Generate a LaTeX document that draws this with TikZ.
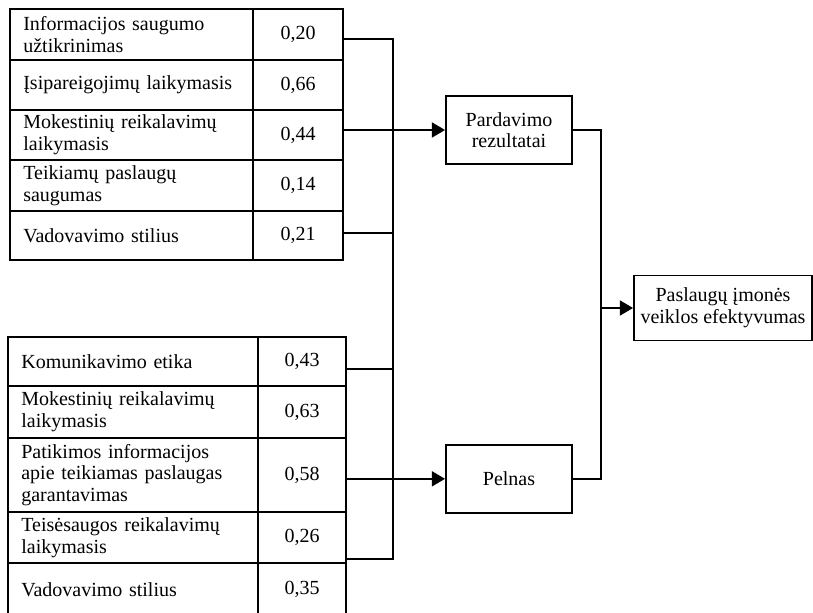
\documentclass[tikz,border=0pt]{standalone}
\usepackage{fontspec}
\setmainfont{Liberation Serif}
\usetikzlibrary{positioning,arrows.meta}

\begin{document}
\begin{tikzpicture}[x=0.6pt,y=-0.6pt,
            font=\fontsize{12pt}{13pt}\selectfont,
            factor node/.style={draw,line width=1.1pt,anchor=north west,align=left,outer sep=0pt,
                inner xsep=8pt,inner ysep=1pt,text width=#1},
            value node/.style={draw,line width=1.1pt,minimum width=#1,inner sep=1pt,outer sep=0pt},
            row height/.style={minimum height=#1*0.6pt},
            main node/.style={draw,line width=1.1pt,align=center,inner xsep=2pt,
                minimum width=75.6pt,minimum height=40.8pt},
            feed line/.style={line width=0.8pt},
            bus line/.style={line width=1.5pt},
            flow arrow/.style={line width=1.3pt,-{Triangle[length=8pt,width=9pt]}}]

        \useasboundingbox (0,0) rectangle (813,612);

        % Upper group of factors
        \node[factor node=129.8pt,row height=51] (f1) at (10,9) {Informacijos saugumo\\užtikrinimas};
        \node[factor node=129.8pt,row height=50,below=0pt of f1] (f2) {Įsipareigojimų laikymasis};
        \node[factor node=129.8pt,row height=50,below=0pt of f2] (f3) {Mokestinių reikalavimų\\laikymasis};
        \node[factor node=129.8pt,row height=51,below=0pt of f3] (f4) {Teikiamų paslaugų\\saugumas};
        \node[factor node=129.8pt,row height=49,below=0pt of f4] (f5) {Vadovavimo stilius};

        \node[value node=54pt,row height=51,right=0pt of f1] (v1) {0,20};
        \node[value node=54pt,row height=50,right=0pt of f2] (v2) {0,66};
        \node[value node=54pt,row height=50,right=0pt of f3] (v3) {0,44};
        \node[value node=54pt,row height=51,right=0pt of f4] (v4) {0,14};
        \node[value node=54pt,row height=49,right=0pt of f5] (v5) {0,21};

        % Lower group of factors
        \node[factor node=134pt,row height=49] (g1) at (8,337) {Komunikavimo etika};
        \node[factor node=134pt,row height=52,below=0pt of g1] (g2) {Mokestinių reikalavimų\\laikymasis};
        \node[factor node=134pt,row height=74,below=0pt of g2] (g3) {Patikimos informacijos\\apie teikiamas paslaugas\\garantavimas};
        \node[factor node=134pt,row height=51,below=0pt of g3] (g4) {Teisėsaugos reikalavimų\\laikymasis};
        \node[factor node=134pt,row height=53,below=0pt of g4] (g5) {Vadovavimo stilius};

        \node[value node=52.8pt,row height=49,right=0pt of g1] (w1) {0,43};
        \node[value node=52.8pt,row height=52,right=0pt of g2] (w2) {0,63};
        \node[value node=52.8pt,row height=74,right=0pt of g3] (w3) {0,58};
        \node[value node=52.8pt,row height=51,right=0pt of g4] (w4) {0,26};
        \node[value node=52.8pt,row height=53,right=0pt of g5] (w5) {0,35};

        % Results
        \node[main node] (sales) at (509,130) {Pardavimo\\rezultatai};
        \node[main node] (profit) [below=167.4pt of sales] {Pelnas};
        \node[main node,minimum width=106.8pt,minimum height=39pt] (result) at (723,308) {Paslaugų įmonės\\veiklos efektyvumas};

        \coordinate (top) at (393,38.5);
        \coordinate (bottom) at (393,559.5);
        \coordinate (join) at (601,308);
        \coordinate (c1) at ([yshift=-2.7pt]v1.east);
        \coordinate (c5) at ([yshift=1.5pt]v5.east);
        \coordinate (d1) at ([yshift=-4.5pt]w1.east);
        \coordinate (d4) at ([yshift=2.4pt]w4.south east);

        % Draw edges
        \draw[bus line] (top) -- (bottom);
        \draw[feed line] (c1) -- (c1 -| top);
        \draw[feed line] (v3.east |- sales.west) -- (top |- sales.west);
        \draw[feed line] (c5) -- (c5 -| top);
        \draw[feed line] (d1) -- (d1 -| top);
        \draw[feed line] (w3.east |- profit.west) -- (top |- profit.west);
        \draw[feed line] (d4) -- (d4 -| top);
        \draw[flow arrow] (top |- sales.west) -- (sales.west);
        \draw[flow arrow] (top |- profit.west) -- (profit.west);
        \draw[feed line,line width=1pt] (sales.east) -| (join) |- (profit.east);
        \draw[flow arrow] (join) -- (result.west);

        \end{tikzpicture}
\end{document}
